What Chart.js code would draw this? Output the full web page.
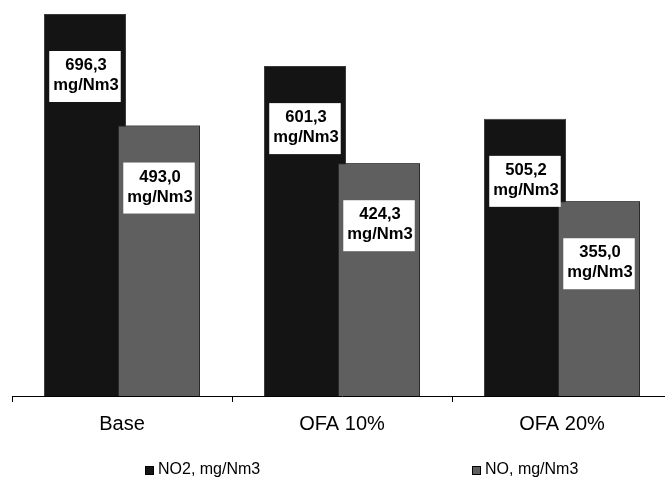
<!DOCTYPE html>
<html>
<head>
<meta charset="utf-8">
<script src="https://cdn.jsdelivr.net/npm/chart.js@4/dist/chart.umd.min.js"></script>
<style>
    html, body { margin: 0; padding: 0; background: #fff; overflow: hidden; }
    .chart-container { position: relative; width: 680px; height: 477px; }
</style>
</head>
<body>
<div class="chart-container"><canvas id="emissionChart"></canvas></div>
<script>
const categories = ['Base', 'OFA 10%', 'OFA 20%'];
const no2Values = [696.3, 601.3, 505.2];
const noValues = [493.0, 424.3, 355.0];
const seriesNames = ['NO2, mg/Nm3', 'NO, mg/Nm3'];
const unit = 'mg/Nm3';

const FONT = '"Liberation Sans", Arial, sans-serif';

// white boxes with value + unit, a bit below the top of each bar
const valueLabels = {
    id: 'valueLabels',
    afterDatasetsDraw(chart) {
        const ctx = chart.ctx;
        // Comment: NO bars overlap the NO2 ones, so draw them again on top
        ctx.save();
        ctx.beginPath();
        ctx.rect(chart.chartArea.left, chart.chartArea.top, chart.chartArea.width, chart.chartArea.height);
        ctx.clip();
        chart.getDatasetMeta(1).data.forEach(bar => bar.draw(ctx));
        ctx.restore();

        ctx.save();
        ctx.font = 'bold 16.6px ' + FONT;
        ctx.textAlign = 'center';
        ctx.textBaseline = 'alphabetic';
        chart.data.datasets.forEach((ds, di) => {
            chart.getDatasetMeta(di).data.forEach((bar, i) => {
                const line1 = ds.data[i].toFixed(1).replace('.', ',');
                const w = Math.max(ctx.measureText(line1).width, ctx.measureText(unit).width) + 6;
                const h = 51;
                const top = bar.y + 37;
                ctx.fillStyle = '#fff';
                ctx.fillRect(bar.x - w / 2, top, w, h);
                ctx.fillStyle = '#000';
                ctx.fillText(line1, bar.x + 1, top + 19);
                ctx.fillText(unit, bar.x + 1, top + 39);
            });
        });
        ctx.restore();
    }
};

// Excel-like legend, items spread wide apart
const wideLegend = {
    id: 'wideLegend',
    afterDraw(chart) {
        const ctx = chart.ctx;
        const xs = [145, 472];
        ctx.save();
        ctx.font = '16px ' + FONT;
        ctx.textBaseline = 'alphabetic';
        chart.data.datasets.forEach((ds, i) => {
            ctx.fillStyle = ds.backgroundColor;
            ctx.fillRect(xs[i], 466, 8, 8);
            ctx.strokeStyle = '#000';
            ctx.lineWidth = 1;
            ctx.strokeRect(xs[i] + 0.5, 466.5, 8, 8);
            ctx.fillStyle = '#000';
            ctx.fillText(ds.label, xs[i] + 13, 474);
        });
        ctx.restore();
    }
};

const ctx = document.getElementById('emissionChart').getContext('2d');
new Chart(ctx, {
    type: 'bar',
    data: {
        labels: categories,
        datasets: [{
            label: seriesNames[0],
            data: no2Values,
            backgroundColor: '#141414',
            borderColor: '#3a3a3a',
            borderWidth: 1,
            borderSkipped: 'bottom'
        }, {
            label: seriesNames[1],
            data: noValues,
            backgroundColor: '#5f5f5f',
            borderColor: '#2a2a2a',
            borderWidth: 1,
            borderSkipped: 'bottom'
        }]
    },
    options: {
        responsive: true,
        maintainAspectRatio: false,
        animation: false,
        categoryPercentage: 0.673,
        barPercentage: 1.108,
        layout: { padding: { top: 1, left: 12, right: 8, bottom: 31 } },
        plugins: {
            legend: { display: false },
            tooltip: { enabled: false }
        },
        scales: {
            x: {
                grid: {
                    drawOnChartArea: false,
                    drawTicks: true,
                    tickLength: 6,
                    color: '#000'
                },
                border: { display: true, color: '#000', width: 1 },
                ticks: {
                    color: '#000',
                    padding: 10,
                    font: { family: FONT, size: 20 }
                }
            },
            y: {
                display: false,
                min: 0,
                max: 720
            }
        }
    },
    plugins: [valueLabels, wideLegend]
});
</script>
</body>
</html>
